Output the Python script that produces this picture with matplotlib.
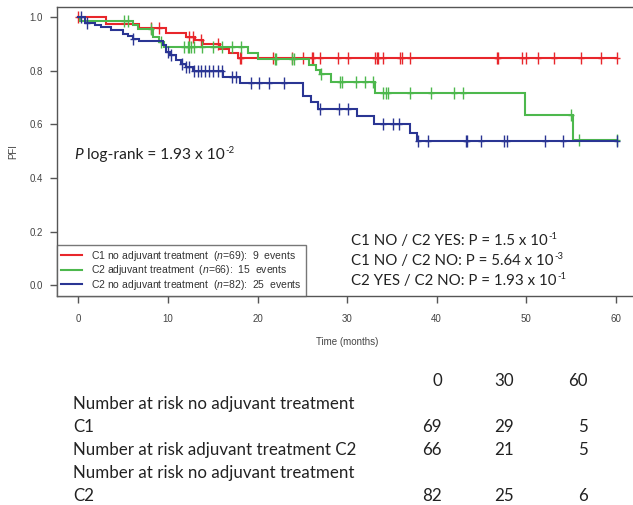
import numpy as np
import matplotlib
matplotlib.use("Agg")
import matplotlib.pyplot as plt

# ---- Kaplan-Meier step data (time in months, PFI after each event) ----
c1_no_times = [3.1, 6.8, 9.8, 12.0, 13.0, 13.9, 15.8, 16.8, 17.8]
c1_no_surv = [0.975, 0.960, 0.942, 0.927, 0.914, 0.900, 0.883, 0.866, 0.850]
c1_no_cens = [0.0, 8.1, 9.0, 12.4, 12.8, 13.7, 15.6, 18.0, 18.2, 21.7, 23.9, 25.1,
              26.1, 26.2, 27.0, 29.0, 30.1, 33.1, 33.3, 33.5, 34.0, 35.9, 36.1,
              37.0, 46.7, 46.9, 49.5, 50.0, 51.3, 53.1, 56.1, 58.4, 60.1]

c2_adj_times = [0.2, 6.1, 6.6, 8.3, 9.0, 9.6, 18.9, 20.0, 25.8, 26.5, 27.0, 28.2,
                33.1, 49.9, 55.2]
c2_adj_surv = [0.985, 0.970, 0.955, 0.927, 0.908, 0.889, 0.866, 0.844, 0.822,
               0.805, 0.789, 0.758, 0.716, 0.636, 0.542]
c2_adj_cens = [5.1, 5.5, 8.1, 9.2, 11.8, 12.2, 12.4, 12.6, 12.9, 13.8, 15.0, 16.0,
               17.2, 18.2, 21.9, 22.1, 23.9, 24.1, 27.1, 29.2, 29.4, 31.0, 32.0,
               32.9, 34.0, 34.4, 34.6, 37.0, 39.4, 42.0, 43.0, 55.0, 55.9, 60.1]

c2_no_times = [0.7, 1.8, 2.5, 3.6, 5.0, 5.5, 6.1, 6.8, 9.4, 9.8, 10.2, 10.9, 11.5,
               12.0, 12.8, 16.1, 18.0, 25.1, 26.0, 26.7, 31.1, 33.0, 37.0, 37.8]
c2_no_surv = [0.981, 0.972, 0.964, 0.952, 0.939, 0.931, 0.921, 0.911, 0.896,
              0.871, 0.859, 0.840, 0.827, 0.815, 0.798, 0.779, 0.754, 0.707,
              0.685, 0.657, 0.632, 0.602, 0.569, 0.539]
c2_no_cens = [0.3, 0.9, 6.1, 10.0, 10.3, 11.6, 12.0, 12.4, 12.9, 13.3, 13.7, 14.1,
              14.6, 15.0, 15.6, 16.0, 17.1, 17.6, 19.3, 20.2, 21.3, 23.0, 27.0,
              29.1, 30.1, 34.0, 35.1, 35.8, 37.9, 39.0, 43.3, 43.4, 45.0, 47.5,
              47.9, 52.1, 54.1, 60.2]

legend_labels = [
    r"C1 no adjuvant treatment  ($\it{n}$=69):  9  events",
    r"C2 adjuvant treatment  ($\it{n}$=66):  15  events",
    r"C2 no adjuvant treatment  ($\it{n}$=82):  25  events",
]
colors = ["#e8262b", "#4db84d", "#2a3593"]

risk_times = ["0", "30", "60"]
risk_rows = [
    ["Number at risk no adjuvant treatment", "C1"],
    ["Number at risk adjuvant treatment C2"],
    ["Number at risk no adjuvant treatment", "C2"],
]
risk_counts = [[69, 29, 5], [66, 21, 5], [82, 25, 6]]

pair_tests = [
    ("C1 NO / C2 YES: P = 1.5 x 10", "-1"),
    ("C1 NO / C2 NO: P = 5.64 x 10", "-3"),
    ("C2 YES / C2 NO: P = 1.93 x 10", "-1"),
]
logrank_base, logrank_exp = "1.93 x 10", "-2"

# ---- figure ----
W, H = 633, 505
fig = plt.figure(figsize=(W / 100, H / 100), dpi=100)
plt.rcParams["mathtext.fontset"] = "custom"
plt.rcParams["mathtext.rm"] = "Liberation Sans"
plt.rcParams["mathtext.it"] = "Liberation Sans:italic"


def fx(px):
    return px / W


def fy(py):
    return 1 - py / H


ax_left, ax_right, ax_top, ax_bot = 57, 638, 7, 296
ax = fig.add_axes([fx(ax_left), fy(ax_bot), fx(ax_right - ax_left),
                   (ax_bot - ax_top) / H])
ax.set_xlim(-2.4, 62.5)
ax.set_ylim(-0.041, 1.039)

groups = [
    (c1_no_times, c1_no_surv, c1_no_cens),
    (c2_adj_times, c2_adj_surv, c2_adj_cens),
    (c2_no_times, c2_no_surv, c2_no_cens),
]
handles = []
for (times, surv, cens), col in zip(groups, colors):
    end = max(max(cens), max(times))
    t = np.concatenate([[0.0], times, [end]])
    s = np.concatenate([[1.0], surv, [surv[-1]]])
    h, = ax.step(t, s, where="post", color=col, lw=1.5, solid_joinstyle="miter")
    handles.append(h)
    idx = np.searchsorted(np.asarray(times), np.asarray(cens), side="right")
    cs = np.concatenate([[1.0], surv])[idx]
    ax.plot(cens, cs, ls="none", marker="|", ms=8, mew=1.0, color=col)
    ax.plot(cens, cs, ls="none", marker="_", ms=5, mew=1.0, color=col)

tick_col = "#444444"
for side in ["left", "bottom", "top", "right"]:
    ax.spines[side].set_color("#555555")
    ax.spines[side].set_linewidth(1.0)
ax.set_xticks([0, 10, 20, 30, 40, 50, 60])
ax.set_yticks([0.0, 0.2, 0.4, 0.6, 0.8, 1.0])
ax.set_yticklabels(["0.0", "0.2", "0.4", "0.6", "0.8", "1.0"])
ax.tick_params(axis="both", direction="out", length=5, width=1.0,
               color="#555555", labelcolor=tick_col, labelsize=7)
ax.tick_params(axis="x", pad=8)
ax.tick_params(axis="y", pad=5)
for lab in ax.get_xticklabels() + ax.get_yticklabels():
    lab.set_family("Liberation Sans")

fig.text(fx(347), fy(342), "Time (months)", ha="center", va="center",
         fontsize=7, color=tick_col, family="Liberation Sans")
fig.text(fx(13), fy(152), "PFI", ha="center", va="center", rotation=90,
         fontsize=7, color=tick_col, family="Liberation Sans")

leg = ax.legend(handles, legend_labels, loc="lower left", bbox_to_anchor=(0, 0),
                borderaxespad=0, frameon=True, fancybox=False,
                handlelength=2.0, handletextpad=0.85, labelspacing=0.05,
                borderpad=0.4, prop={"family": "Liberation Sans", "size": 7.5})
leg.get_frame().set_edgecolor("#555555")
leg.get_frame().set_linewidth(1.0)
for txt in leg.get_texts():
    txt.set_color("#333333")

big_font = "Lato"
txt_col = "#222222"


def text_with_exponent(x_px, y_px, base, exp, size, italic_prefix=None):
    """Draw 'base' followed by a raised exponent, starting at pixel x."""
    x0 = fx(x_px)
    if italic_prefix:
        tp = fig.text(x0, fy(y_px), italic_prefix, ha="left", va="center",
                      fontsize=size, color=txt_col, family=big_font, style="italic")
        fig.canvas.draw()
        x0 = tp.get_window_extent().x1 / W
    tb = fig.text(x0, fy(y_px), base, ha="left", va="center", fontsize=size,
                  color=txt_col, family=big_font)
    fig.canvas.draw()
    xb = tb.get_window_extent().x1 / W
    fig.text(xb + 0.001, fy(y_px - 0.42 * size), exp, ha="left", va="center",
             fontsize=size * 0.62, color=txt_col, family=big_font)


# log-rank p-value
text_with_exponent(74, 155, " log-rank = " + logrank_base, logrank_exp, 11.2,
                   italic_prefix="P")

# pairwise tests
for i, (base, exp) in enumerate(pair_tests):
    text_with_exponent(351, 241 + 20 * i, base, exp, 10.85)

# number at risk table
table_size = 12.2
col_right = [442, 514, 588]
for cx, lab in zip(col_right, risk_times):
    fig.text(fx(cx), fy(381), lab, ha="right", va="center", fontsize=table_size,
             color=txt_col, family=big_font)
row_y = 404
for lines, counts in zip(risk_rows, risk_counts):
    for k, line in enumerate(lines):
        fig.text(fx(73), fy(row_y + 23 * k), line, ha="left", va="center",
                 fontsize=table_size, color=txt_col, family=big_font)
    count_y = row_y + 23 * (len(lines) - 1)
    for cx, n in zip(col_right, counts):
        fig.text(fx(cx), fy(count_y), str(n), ha="right", va="center",
                 fontsize=table_size, color=txt_col, family=big_font)
    row_y += 23 * len(lines)

fig.savefig("out.png", dpi=100)
